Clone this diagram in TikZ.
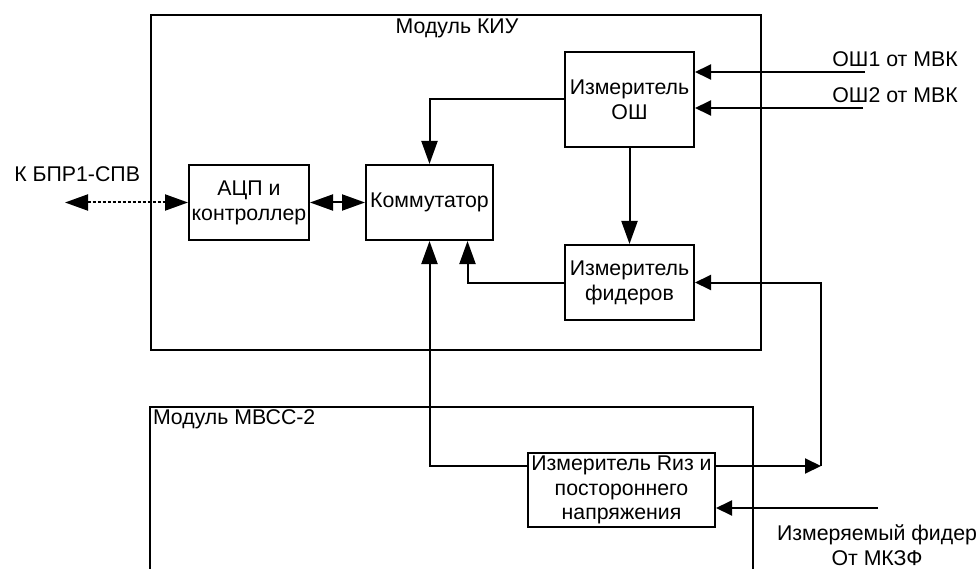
\documentclass[tikz,border=0pt]{standalone}
\usepackage{fontspec}
\setmainfont{Liberation Sans}
\usetikzlibrary{arrows.meta,calc,positioning}

\begin{document}
\begin{tikzpicture}[%
    x=1pt, y=-1pt,
    >={Triangle[length=23pt,width=16pt]},
    line width=2pt,
    font=\fontsize{21.3}{24.8}\selectfont,
    node distance=2cm,
    on grid,
    block/.style={draw, align=center, inner sep=1pt},
    small/.style={-{Triangle[length=16pt,width=15pt]}}
  ]
  \useasboundingbox (0,0) rectangle (979,569);

  \draw (151,15) rectangle (761,350);
  \node[anchor=base] (kiu) at (457,34) {Модуль КИУ};
  \draw (150,575) |- (753,407) -- (753,575);
  \node[anchor=north west, inner sep=1pt] (mvss) at (151,408) {Модуль МВСС-2};

  \node[block, minimum width=120pt, minimum height=75pt] (adc) at (249,202.5) {АЦП и\\контроллер};
  \node[block, minimum width=127pt, minimum height=75pt] (comm) [right=180.5pt of adc] {Коммутатор};
  \node[block, minimum width=129pt, minimum height=95pt] (osh) at (629.5,99.5) {Измеритель\\ОШ};
  \node[block, minimum width=129pt, minimum height=75pt] (fid) [below=183pt of osh] {Измеритель\\фидеров};
  \node[block, minimum width=187pt, minimum height=74pt] (riz) at (621.5,490) {Измеритель Rиз и\\постороннего\\напряжения};

  \node[anchor=base west] (bpr) at (10,182) {К БПР1-СПВ};
  \node[anchor=base east] (osh1) at (962,67) {ОШ1 от МВК};
  \node[anchor=base east] (osh2) at (962,103) {ОШ2 от МВК};
  \node[align=center] (feedlbl) at (877,545) {Измеряемый фидер\\От МКЗФ};

  \coordinate (bprend) at (65,202.5);
  \coordinate (osh1in) at (865,72);
  \coordinate (osh2in) at (863,108);
  \coordinate (junc) at (821,466);
  \coordinate (feed) at (878,508);

  \draw[<->, densely dashed] (bprend) -- (adc.west);
  \draw[<->] (adc) -- (comm);
  \draw[->] (osh.west) -| (comm.north);
  \draw[->] (osh) -- (fid);
  \draw[->] (fid.west) -| ([xshift=38pt]comm.south);
  \draw[->] ([yshift=24pt]riz.west) -| (comm.south);
  \draw[small] (osh1in) -- (osh1in -| osh.east);
  \draw[small] (osh2in) -- (osh2in -| osh.east);
  \draw[small] ([yshift=24pt]riz.east) -- (junc);
  \draw[small] (junc) |- (fid.east);
  \draw[small] (feed) -- (feed -| riz.east);

\end{tikzpicture}
\end{document}
